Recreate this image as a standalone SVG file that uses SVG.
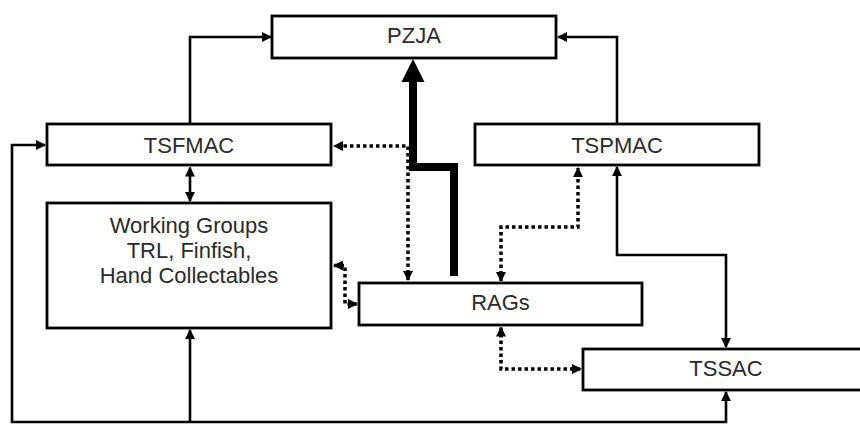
<svg xmlns="http://www.w3.org/2000/svg" width="860" height="424" viewBox="0 0 860 424">
  <style>
    .box { fill: #ffffff; stroke: #000000; stroke-width: 2.8; }
    .lbl { font-family: "Liberation Sans", Arial, sans-serif; font-size: 22px; fill: #2a2a2a; text-anchor: middle; }
    .solid { fill: none; stroke: #000000; stroke-width: 2.6; }
    .dot { fill: none; stroke: #000000; stroke-width: 3.5; stroke-dasharray: 3.5 3; }
    .thick { fill: none; stroke: #000000; stroke-width: 8; stroke-linejoin: miter; }
  </style>
  <defs>
    <marker id="ah" viewBox="0 0 10 10" refX="9" refY="5" markerWidth="10" markerHeight="10" markerUnits="userSpaceOnUse" orient="auto-start-reverse">
      <path d="M0,0 L10,5 L0,10 z" fill="#000000" stroke="none"/>
    </marker>
  </defs>
  <rect width="860" height="424" fill="#ffffff"/>

  <g id="connectors">
    <path class="solid" d="M190,124 V37 H271" marker-end="url(#ah)"/>
    <path class="solid" d="M617,124 V37 H558" marker-end="url(#ah)"/>
    <path class="solid" d="M190,167.5 V201" marker-start="url(#ah)" marker-end="url(#ah)"/>
    <path class="solid" d="M726,347 V255 H617 V167" marker-start="url(#ah)" marker-end="url(#ah)"/>
    <path class="solid" d="M45,145 H12 V422 H726 V392" marker-start="url(#ah)" marker-end="url(#ah)"/>
    <path class="solid" d="M190,422 V330" marker-end="url(#ah)"/>
    <path class="thick" d="M454,276 V167 H413 V80"/>
    <polygon points="401.5,82 424.5,82 413,59" fill="#000000"/>
    <path class="dot" d="M408,280 V146 H334" marker-start="url(#ah)" marker-end="url(#ah)"/>
    <path class="dot" d="M501,281 V227 H578 V168" marker-start="url(#ah)" marker-end="url(#ah)"/>
    <path class="dot" d="M334,265.5 H345 V304 H357" marker-start="url(#ah)" marker-end="url(#ah)"/>
    <path class="dot" d="M501,327.5 V369 H581" marker-start="url(#ah)" marker-end="url(#ah)"/>
  </g>

  <g id="PZJA">
    <rect class="box" x="272" y="16" width="284" height="42"/>
    <text class="lbl" x="414" y="43">PZJA</text>
  </g>
  <g id="TSFMAC">
    <rect class="box" x="47" y="124" width="284" height="41"/>
    <text class="lbl" x="189" y="153">TSFMAC</text>
  </g>
  <g id="TSPMAC">
    <rect class="box" x="475" y="124" width="284" height="41"/>
    <text class="lbl" x="617" y="153">TSPMAC</text>
  </g>
  <g id="WorkingGroups">
    <rect class="box" x="47" y="203" width="284" height="125"/>
    <text class="lbl" x="189" y="233">Working Groups</text>
    <text class="lbl" x="189" y="258">TRL, Finfish,</text>
    <text class="lbl" x="189" y="283">Hand Collectables</text>
  </g>
  <g id="RAGs">
    <rect class="box" x="359" y="283" width="283" height="42"/>
    <text class="lbl" x="500.5" y="310">RAGs</text>
  </g>
  <g id="TSSAC">
    <rect class="box" x="583" y="349" width="300" height="41"/>
    <text class="lbl" x="726" y="376">TSSAC</text>
  </g>
</svg>
